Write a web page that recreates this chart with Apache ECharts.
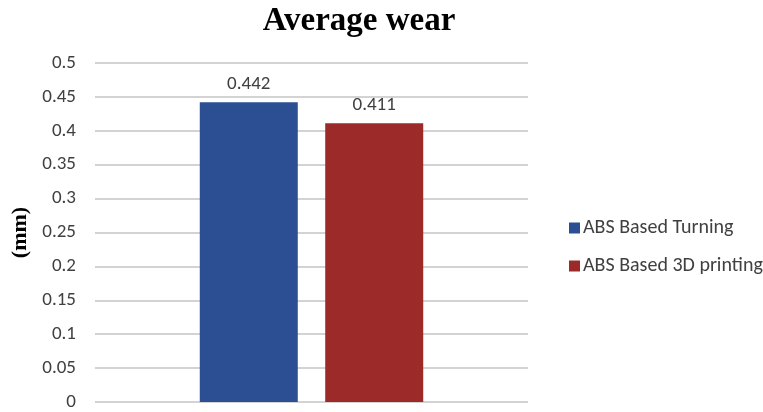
<!DOCTYPE html>
<html>
<head>
<meta charset="utf-8">
<script src="https://cdn.jsdelivr.net/npm/echarts@6/dist/echarts.min.js"></script>
<style>
  html, body { margin: 0; padding: 0; background: #fff; }
  #chart { width: 763px; height: 412px; }
</style>
</head>
<body>
<div id="chart"></div>
<script>
// data
var categories = ['Average wear'];
var seriesNames = ['ABS Based Turning', 'ABS Based 3D printing'];
var turning = [0.442];
var printing = [0.411];
var colors = ['#2B4F92', '#9B2A28'];

var myChart = echarts.init(document.getElementById('chart'));
var labelFont = 'Carlito, "Open Sans", "Liberation Sans", sans-serif';

var option = {
  backgroundColor: '#fff',
  animation: false,
  title: {
    text: 'Average wear',
    left: 354,
    textAlign: 'center',
    top: 0,
    textStyle: {
      fontFamily: '"Liberation Serif", serif',
      fontWeight: 'bold',
      fontSize: 33,
      color: '#000'
    }
  },
  legend: {
    orient: 'vertical',
    left: 564,
    top: 213,
    itemWidth: 11,
    itemHeight: 11,
    itemGap: 18,
    icon: 'rect',
    data: seriesNames,
    textStyle: {
      fontFamily: labelFont,
      fontSize: 20,
      color: '#404040',
      padding: [0, 0, 0, -2]
    }
  },
  grid: {
    left: 95,
    right: 235,
    top: 63,
    bottom: 10
  },
  xAxis: {
    type: 'category',
    data: categories,
    axisLine: { show: false },
    axisTick: { show: false },
    axisLabel: { show: false }
  },
  yAxis: {
    type: 'value',
    min: 0,
    max: 0.5,
    interval: 0.05,
    name: '(mm)',
    nameLocation: 'middle',
    nameGap: 58,
    nameTextStyle: {
      fontFamily: '"Liberation Serif", serif',
      fontWeight: 'bold',
      fontSize: 22,
      color: '#000'
    },
    axisLine: { show: false },
    axisTick: { show: false },
    axisLabel: {
      margin: 19,
      fontFamily: labelFont,
      fontSize: 19,
      color: '#404040',
      formatter: function (v) { return String(+v.toFixed(2)); }
    },
    splitLine: { lineStyle: { color: '#c4c4c4', width: 1.5 } }
  },
  series: [
    {
      name: seriesNames[0],
      type: 'bar',
      data: turning,
      barWidth: 98,
      barGap: '28%',
      itemStyle: { color: colors[0] },
      label: {
        show: true,
        position: 'top',
        distance: 9,
        fontFamily: labelFont,
        fontSize: 19,
        color: '#404040'
      }
    },
    {
      name: seriesNames[1],
      type: 'bar',
      data: printing,
      barWidth: 98,
      itemStyle: { color: colors[1] },
      label: {
        show: true,
        position: 'top',
        distance: 9,
        fontFamily: labelFont,
        fontSize: 19,
        color: '#404040'
      }
    }
  ]
};
myChart.setOption(option);
</script>
</body>
</html>
